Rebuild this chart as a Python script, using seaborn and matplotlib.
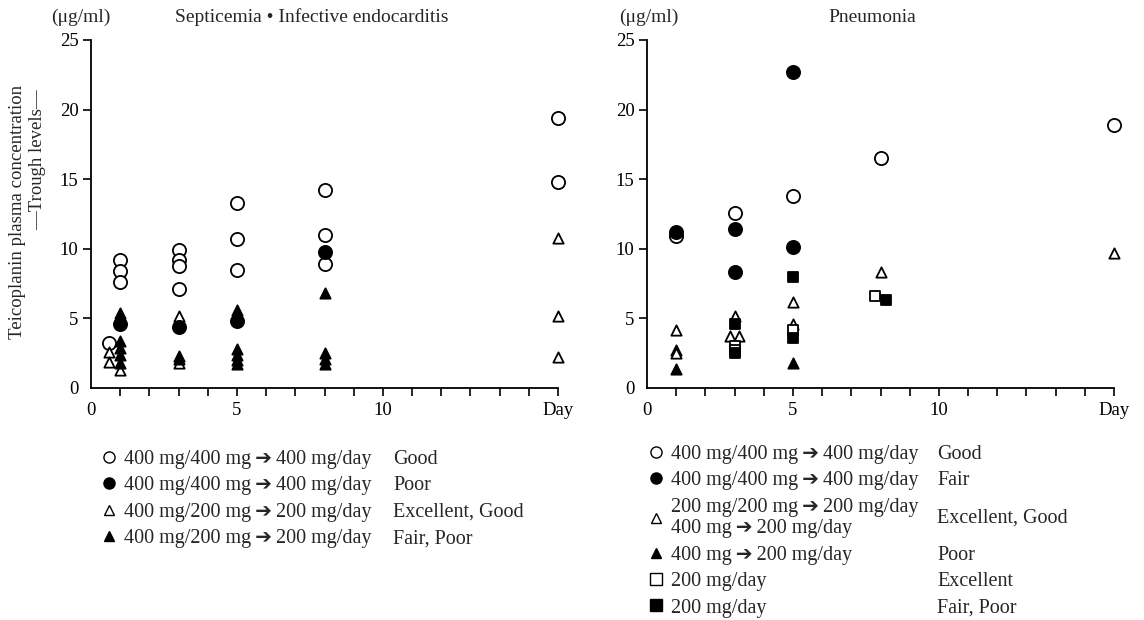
import numpy as np
import pandas as pd
import matplotlib
matplotlib.use("Agg")
import matplotlib.pyplot as plt
from matplotlib.lines import Line2D
import seaborn as sns

sns.set_theme(style="ticks")
plt.rcParams['font.family'] = ['Liberation Serif', 'DejaVu Sans']

# ---------------- data ----------------
# Left panel: Septicemia / Infective endocarditis
L_oc_day = [0.62, 1, 1, 1, 3, 3, 3, 3, 5, 5, 5, 8, 8, 8, 16, 16]
L_oc_val = [3.2, 9.2, 8.4, 7.6, 9.9, 9.2, 8.8, 7.1, 13.3, 10.7, 8.5, 14.2, 11.0, 8.9, 19.4, 14.8]
L_fc_day = [1, 3, 5, 8]
L_fc_val = [4.6, 4.4, 4.8, 9.8]
L_ot_day = [0.62, 0.62, 1, 3, 3, 16, 16, 16]
L_ot_val = [2.6, 1.9, 1.3, 5.2, 1.8, 10.8, 5.2, 2.2]
L_ft_day = [1, 1, 1, 1, 1, 1, 3, 3, 5, 5, 5, 5, 5, 5, 8, 8, 8, 8]
L_ft_val = [5.4, 5.0, 3.4, 2.9, 2.4, 1.8, 2.3, 2.1, 5.6, 5.2, 2.8, 2.4, 2.0, 1.7, 6.8, 2.5, 2.1, 1.7]

# Right panel: Pneumonia
R_oc_day = [1, 3, 5, 8, 16]
R_oc_val = [10.9, 12.6, 13.8, 16.5, 18.9]
R_fc_day = [1, 3, 3, 5, 5]
R_fc_val = [11.2, 11.4, 8.3, 22.7, 10.1]
R_ot_day = [1, 1, 1, 2.85, 3, 3.15, 5, 5, 8, 16]
R_ot_val = [4.2, 2.7, 2.5, 3.7, 5.2, 3.7, 6.2, 4.6, 8.3, 9.7]
R_ft_day = [1, 5]
R_ft_val = [1.4, 1.8]
R_os_day = [3, 3, 5, 7.8]
R_os_val = [3.0, 2.7, 4.15, 6.6]
R_fs_day = [3, 3, 5, 5, 8.2]
R_fs_val = [4.6, 2.5, 8.0, 3.6, 6.3]

x_ticks = list(range(0, 17))
x_labels = ['0', '', '', '', '', '5', '', '', '', '', '10', '', '', '', '', '', 'Day']
y_ticks = [0, 5, 10, 15, 20, 25]

L_title = "Septicemia \u2022 Infective endocarditis"
R_title = "Pneumonia"
unit = "(\u03bcg/ml)"
ylab1 = "Teicoplanin plasma concentration"
ylab2 = "\u2014Trough levels\u2014"

ARW = "\u2009\u2794\u2009"
L_leg = [f"400 mg/400 mg{ARW}400 mg/day", f"400 mg/400 mg{ARW}400 mg/day",
         f"400 mg/200 mg{ARW}200 mg/day", f"400 mg/200 mg{ARW}200 mg/day"]
L_rate = ["Good", "Poor", "Excellent, Good", "Fair, Poor"]
R_leg = [f"400 mg/400 mg{ARW}400 mg/day", f"400 mg/400 mg{ARW}400 mg/day",
         f"200 mg/200 mg{ARW}200 mg/day\n400 mg{ARW}200 mg/day", f"400 mg{ARW}200 mg/day",
         "200 mg/day", "200 mg/day"]
R_rate = ["Good", "Fair", "Excellent, Good", "Poor", "Excellent", "Fair, Poor"]

# ---------------- styles ----------------
STY = {
    'oc': dict(marker='o', s=90, fc='white'),
    'fc': dict(marker='o', s=90, fc='black'),
    'ot': dict(marker='^', s=55, fc='white'),
    'ft': dict(marker='^', s=55, fc='black'),
    'os': dict(marker='s', s=60, fc='white'),
    'fs': dict(marker='s', s=60, fc='black'),
}

W, H = 1144, 620
fig = plt.figure(figsize=(W / 100, H / 100), dpi=100)
axL = fig.add_axes([91 / W, 232 / H, 467 / W, 348 / H])
axR = fig.add_axes([647 / W, 232 / H, 467 / W, 348 / H])


def draw(ax, groups):
    for key, d, v in groups:
        st = STY[key]
        df = pd.DataFrame({'day': d, 'val': v})
        sns.scatterplot(data=df, x='day', y='val', ax=ax, marker=st['marker'], s=st['s'],
                        facecolor=st['fc'], edgecolor='black', linewidth=1.3,
                        clip_on=False, zorder=3, legend=False)
    ax.set_xlim(0, 16)
    ax.set_ylim(0, 25)
    ax.set_xlabel('')
    ax.set_ylabel('')
    sns.despine(ax=ax)
    for sp in ['left', 'bottom']:
        ax.spines[sp].set_linewidth(1.3)
        ax.spines[sp].set_color('black')
    ax.set_xticks(x_ticks)
    ax.set_xticklabels(x_labels)
    ax.set_yticks(y_ticks)
    ax.set_yticklabels([str(t) for t in y_ticks])
    ax.tick_params(axis='both', direction='out', length=6, width=1.2, colors='black',
                   labelsize=13.5)
    ax.tick_params(axis='x', pad=4)
    ax.tick_params(axis='y', pad=3)
    ax.xaxis.get_major_ticks()[0].tick1line.set_visible(False)
    ax.yaxis.get_major_ticks()[0].tick1line.set_visible(False)
    ax.set_facecolor('white')


draw(axL, [('oc', L_oc_day, L_oc_val), ('ot', L_ot_day, L_ot_val),
           ('fc', L_fc_day, L_fc_val), ('ft', L_ft_day, L_ft_val)])
draw(axR, [('oc', R_oc_day, R_oc_val), ('ot', R_ot_day, R_ot_val), ('os', R_os_day, R_os_val),
           ('fc', R_fc_day, R_fc_val), ('ft', R_ft_day, R_ft_val), ('fs', R_fs_day, R_fs_val)])

# titles and units
fig.text(81 / W, 1 - 17 / H, unit, ha='center', va='center', fontsize=14)
fig.text(312 / W, 1 - 17 / H, L_title, ha='center', va='center', fontsize=14)
fig.text(649 / W, 1 - 17 / H, unit, ha='center', va='center', fontsize=14)
fig.text(872 / W, 1 - 17 / H, R_title, ha='center', va='center', fontsize=14)
fig.text(18 / W, 1 - 212 / H, ylab1, rotation=90, ha='center', va='center', fontsize=13.5)
fig.text(38 / W, 1 - 160 / H, ylab2, rotation=90, ha='center', va='center', fontsize=13.5)


def handle(key):
    st = STY[key]
    return Line2D([], [], linestyle='none', marker=st['marker'], markersize=8 if st['marker'] != '^' else 7,
                  markerfacecolor=st['fc'], markeredgecolor='black', markeredgewidth=1.0)


FS = 14.5
legL = fig.legend([handle(k) for k in ['oc', 'fc', 'ot', 'ft']], L_leg,
                  loc='upper left', bbox_to_anchor=(101 / W, 1 - 450 / H), frameon=False,
                  fontsize=FS, handlelength=0.8, handletextpad=0.35, labelspacing=0.36,
                  borderpad=0, borderaxespad=0)
legR = fig.legend([handle(k) for k in ['oc', 'fc', 'ot', 'ft', 'os', 'fs']], R_leg,
                  loc='upper left', bbox_to_anchor=(648 / W, 1 - 445 / H), frameon=False,
                  fontsize=FS, handlelength=0.8, handletextpad=0.35, labelspacing=0.36,
                  borderpad=0, borderaxespad=0)

fig.canvas.draw()
inv = fig.transFigure.inverted()
r = fig.canvas.get_renderer()
for leg, rates, xr in [(legL, L_rate, 393), (legR, R_rate, 937)]:
    for t, rate in zip(leg.get_texts(), rates):
        bb = t.get_window_extent(r)
        yc = inv.transform(((bb.x0 + bb.x1) / 2, (bb.y0 + bb.y1) / 2))[1]
        fig.text(xr / W, yc, rate, ha='left', va='center', fontsize=FS)

fig.savefig('out.png', dpi=100, facecolor='white')
